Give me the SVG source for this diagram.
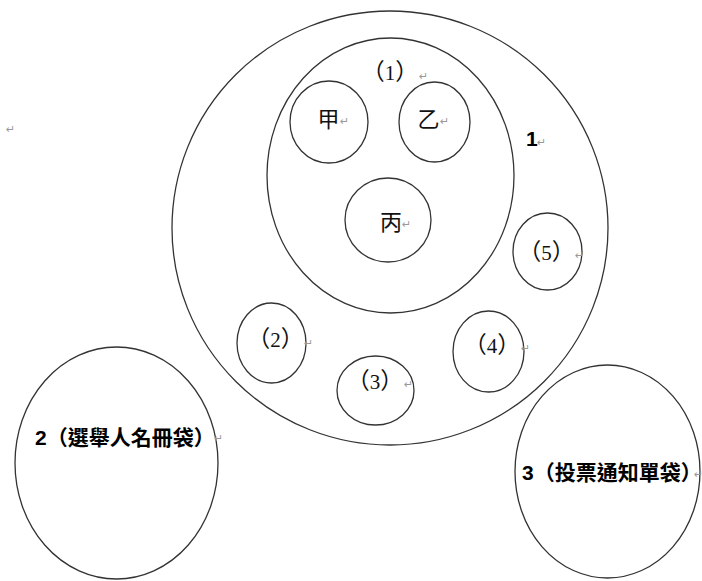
<svg xmlns="http://www.w3.org/2000/svg" width="702" height="581" viewBox="0 0 702 581">
<style>
.c{fill:none;stroke:#333;stroke-width:1.3}
.n{font-family:"Liberation Serif","Noto Sans CJK TC",serif;font-size:21px;fill:#111;text-anchor:middle}
.q{font-size:23px}
.k{font-family:"Noto Sans CJK TC",sans-serif;font-size:22px;fill:#111;text-anchor:middle}
.b{font-family:"Liberation Sans","Noto Sans CJK TC",sans-serif;font-size:21px;font-weight:bold;fill:#000}
.h{font-feature-settings:"halt"}
.p{font-family:"DejaVu Sans",sans-serif;font-size:11px;fill:#999}
</style>
<rect width="702" height="581" fill="#fff"/>
<text class="p" x="6" y="133">↵</text>
<g id="node-1">
<ellipse class="c" cx="390" cy="228" rx="218" ry="217"/>
<text class="b" x="526" y="146" font-size="23px">1</text>
<text class="p" x="537" y="146">↵</text>
</g>
<g id="node-1-1">
<ellipse class="c" cx="390.5" cy="175.5" rx="123.5" ry="137.5"/>
<text class="n" x="390" y="80"><tspan class="q">（</tspan>1<tspan class="q">）</tspan></text>
<text class="p" x="419" y="80">↵</text>
</g>
<g id="node-jia">
<ellipse class="c" cx="329" cy="122" rx="39" ry="41"/>
<text class="k" x="328.5" y="127">甲</text>
<text class="p" x="340" y="125">↵</text>
</g>
<g id="node-yi">
<ellipse class="c" cx="434.5" cy="122" rx="35.5" ry="40"/>
<text class="k" x="428.5" y="127">乙</text>
<text class="p" x="440" y="125">↵</text>
</g>
<g id="node-bing">
<ellipse class="c" cx="388" cy="220" rx="43" ry="42"/>
<text class="k" x="391" y="230">丙</text>
<text class="p" x="402" y="228">↵</text>
</g>
<g id="node-1-5">
<ellipse class="c" cx="547.5" cy="251.5" rx="34.5" ry="38.5"/>
<text class="n" x="546.5" y="260"><tspan class="q">（</tspan>5<tspan class="q">）</tspan></text>
<text class="p" x="575" y="259">↵</text>
</g>
<g id="node-1-2">
<ellipse class="c" cx="271.5" cy="343" rx="34.5" ry="40"/>
<text class="n" x="275.5" y="347"><tspan class="q">（</tspan>2<tspan class="q">）</tspan></text>
<text class="p" x="304" y="347">↵</text>
</g>
<g id="node-1-3">
<ellipse class="c" cx="375.5" cy="390.5" rx="38.5" ry="34.5"/>
<text class="n" x="375" y="389"><tspan class="q">（</tspan>3<tspan class="q">）</tspan></text>
<text class="p" x="404" y="388">↵</text>
</g>
<g id="node-1-4">
<ellipse class="c" cx="488.5" cy="351.5" rx="35.5" ry="40.5"/>
<text class="n" x="492" y="353"><tspan class="q">（</tspan>4<tspan class="q">）</tspan></text>
<text class="p" x="521" y="352">↵</text>
</g>
<g id="node-2">
<ellipse class="c" cx="116.5" cy="463" rx="101.5" ry="116"/>
<text class="b" x="35" y="445">2（選舉人名冊袋<tspan class="h">）</tspan></text>
<text class="p" x="214" y="442">↵</text>
</g>
<g id="node-3">
<ellipse class="c" cx="607.5" cy="471.5" rx="92.5" ry="106.5"/>
<text class="b" x="522" y="480">3（投票通知單袋<tspan class="h">）</tspan></text>
<text class="p" x="694" y="478">↵</text>
</g>
<g id="connectors"></g>
</svg>
